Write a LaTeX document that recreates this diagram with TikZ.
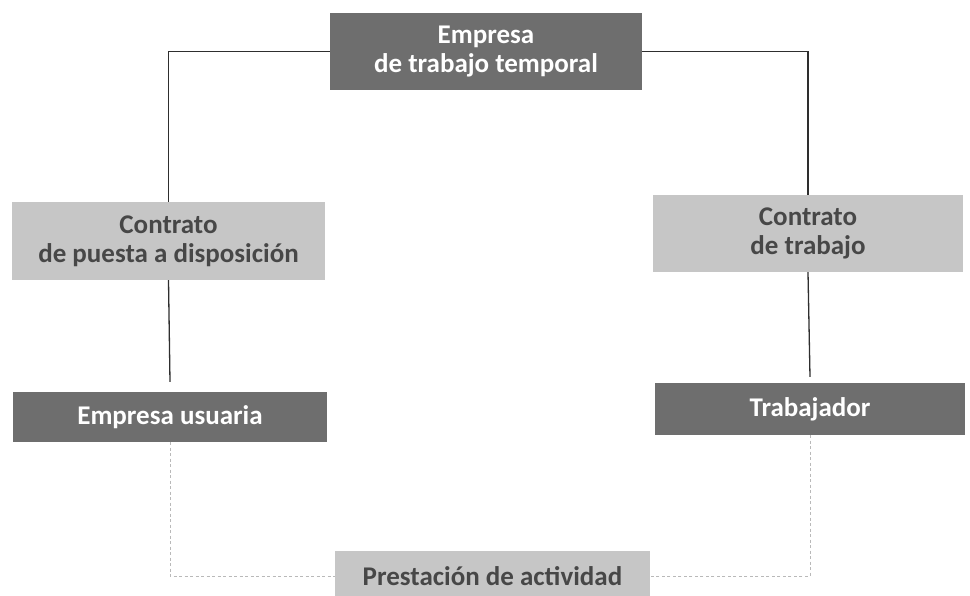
\documentclass[tikz,border=0pt]{standalone}
\usepackage{fontspec}
\setmainfont{Carlito}
\definecolor{boxdark}{HTML}{6E6E6E}
\definecolor{boxlight}{HTML}{C6C6C6}
\definecolor{textdark}{HTML}{474747}
\definecolor{linedark}{HTML}{2E2E2E}

\begin{document}
\begin{tikzpicture}[x=1pt,y=-1pt,
    darkbox/.style={fill=boxdark,text=white,inner sep=0pt,align=center,
        font=\fontsize{27}{29}\selectfont\bfseries},
    lightbox/.style={fill=boxlight,text=textdark,inner sep=0pt,align=center,
        font=\fontsize{27}{29}\selectfont\bfseries},
    link/.style={draw=linedark,line width=1.3pt},
    dashlink/.style={draw=gray!55,line width=0.9pt,dash pattern=on 3pt off 2.5pt}]

\useasboundingbox (0,0) rectangle (970,596);

\node[darkbox,minimum width=312pt,minimum height=77pt] (temp) at (486,51.5) {Empresa\\de trabajo temporal};

\node[lightbox,minimum width=313pt,minimum height=78pt] (cpd) at (168.5,241) {Contrato\\de puesta a disposición};
\node[lightbox,minimum width=310pt,minimum height=77pt] (ctr) at (808,233.5) {Contrato\\de trabajo};

\node[darkbox,minimum width=314pt,minimum height=50pt] (usu) at (170,417) {Empresa usuaria};
\node[darkbox,minimum width=310pt,minimum height=52pt] (trab) at (810,409) {Trabajador};

\node[lightbox,minimum width=315pt,minimum height=50pt] (prest) at (492.5,576) {Prestación de actividad};

\draw[link] (temp.west) -| (cpd.north);
\draw[link] (temp.east) -| (ctr.north);
\draw[link] (cpd.south) -- ([yshift=10pt]usu.north);
\draw[link] (ctr.south) -- ([yshift=6pt]trab.north);

\draw[dashlink] (usu.south) |- (prest.west);
\draw[dashlink] (trab.south) |- (prest.east);

\end{tikzpicture}
\end{document}
